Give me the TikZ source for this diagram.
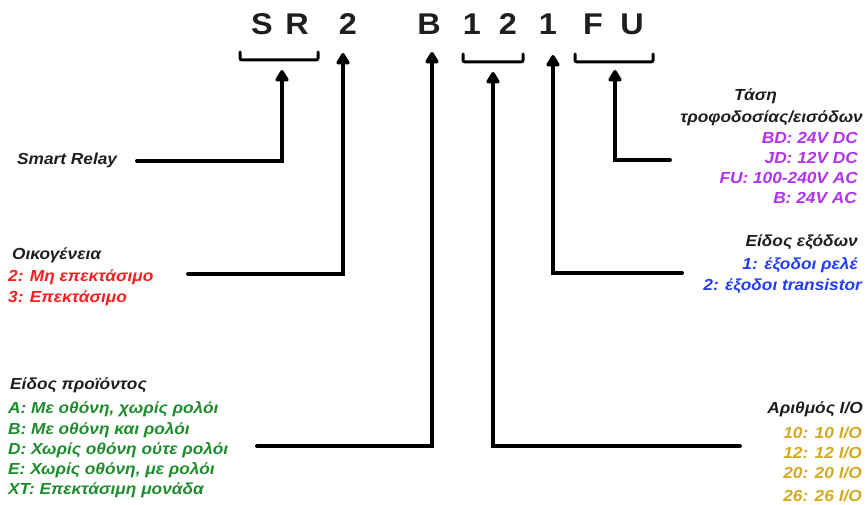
\documentclass[tikz,border=0pt]{standalone}
\usepackage{fontspec}
\setmainfont{Liberation Sans}
\newfontfamily\lblfont[FakeStretch=1.08]{Liberation Sans}
\usetikzlibrary{arrows.meta}
\definecolor{voltc}{RGB}{178,50,240}
\definecolor{famc}{RGB}{250,30,30}
\definecolor{prodc}{RGB}{30,140,45}
\definecolor{outc}{RGB}{35,60,250}
\definecolor{ioc}{RGB}{210,170,30}
\definecolor{headc}{RGB}{30,30,30}
\begin{document}
\begin{tikzpicture}[x=1pt,y=-1pt]
		\tikzstyle{letter}=[font=\lblfont\fontsize{30}{30}\selectfont\bfseries, inner sep=0pt, text=headc]
		\tikzstyle{head}=[font=\lblfont\fontsize{16}{16}\selectfont\bfseries\itshape, inner sep=0pt, text=headc]
		\tikzstyle{val}=[font=\lblfont\fontsize{16}{16}\selectfont\bfseries\itshape, inner sep=0pt]
		\tikzstyle{conn}=[line width=4pt, line cap=round, -{Triangle[round,width=15pt,length=13pt]}]
		\tikzstyle{brace}=[line width=3pt, line cap=round, rounded corners=2pt]

		\useasboundingbox (0,0) rectangle (867,505);

		% code letters
		\node[letter](S) at (262,24){S};
		\node[letter](R) at (297,24){R};
		\node[letter](f2) at (348,24){2};
		\node[letter](B) at (429,24){B};
		\node[letter](n1) at (472,24){1};
		\node[letter](n2) at (508,24){2};
		\node[letter](o1) at (548,24){1};
		\node[letter](F) at (593,24){F};
		\node[letter](U) at (632,24){U};

		% brackets
		\draw[brace] (240,52) -- (240,60) -- (318,60) -- (318,52);
		\draw[brace] (463,54) -- (463,62) -- (523,62) -- (523,54);
		\draw[brace] (575,54) -- (575,62) -- (653,62) -- (653,54);

		% arrow tips
		\coordinate (srtip) at (282,70);
		\coordinate (famtip) at (343,53);
		\coordinate (prodtip) at (432,52);
		\coordinate (iotip) at (493,72);
		\coordinate (outtip) at (553,55);
		\coordinate (volttip) at (615,70);

		% free ends
		\coordinate (srend) at (137,161);
		\coordinate (famend) at (188,274);
		\coordinate (prodend) at (257,446);
		\coordinate (ioend) at (740,446);
		\coordinate (outend) at (682,273);
		\coordinate (voltend) at (670,160);

		% left labels
		\node[val, text=headc, anchor=base west](smart) at (17,165){Smart Relay};

		\node[head, anchor=base west](fam) at (12,259){Οικογένεια};
		\node[val, text=famc, anchor=base west](fam2) at (8,281){2: Μη επεκτάσιμο};
		\node[val, text=famc, anchor=base west](fam3) at (8,302){3: Επεκτάσιμο};

		\node[head, anchor=base west](prod) at (10,389){Είδος προϊόντος};
		\node[val, text=prodc, anchor=base west](prodA) at (8,413){A: Με οθόνη, χωρίς ρολόι};
		\node[val, text=prodc, anchor=base west](prodB) at (8,434){B: Με οθόνη και ρολόι};
		\node[val, text=prodc, anchor=base west](prodD) at (8,454){D: Χωρίς οθόνη ούτε ρολόι};
		\node[val, text=prodc, anchor=base west](prodE) at (8,474){E: Χωρίς οθόνη, με ρολόι};
		\node[val, text=prodc, anchor=base west](prodXT) at (8,494){XT: Επεκτάσιμη μονάδα};

		% right labels
		\node[head, anchor=base east](volt) at (777,101){Τάση};
		\node[head, anchor=base east](volt2) at (863,123){τροφοδοσίας/εισόδων};
		\node[val, text=voltc, anchor=base east](voltBD) at (858,144){BD: 24V DC};
		\node[val, text=voltc, anchor=base east](voltJD) at (858,164){JD: 12V DC};
		\node[val, text=voltc, anchor=base east](voltFU) at (858,184){FU: 100-240V AC};
		\node[val, text=voltc, anchor=base east](voltB) at (857,204){B: 24V AC};

		\node[head, anchor=base east](out) at (858,246){Είδος εξόδων};
		\node[val, text=outc, anchor=base east](out1) at (858,269){1: έξοδοι ρελέ};
		\node[val, text=outc, anchor=base east](out2) at (862,290){2: έξοδοι transistor};

		\node[head, anchor=base east](io) at (863,413){Αριθμός I/O};
		\node[val, text=ioc, anchor=base east](io10) at (862,438){10: 10 I/O};
		\node[val, text=ioc, anchor=base east](io12) at (862,458){12: 12 I/O};
		\node[val, text=ioc, anchor=base east](io20) at (862,478){20: 20 I/O};
		\node[val, text=ioc, anchor=base east](io26) at (862,501){26: 26 I/O};

		% connectors
		\draw[conn] (srend) -| (srtip);
		\draw[conn] (famend) -| (famtip);
		\draw[conn] (prodend) -| (prodtip);
		\draw[conn] (ioend) -| (iotip);
		\draw[conn] (outend) -| (outtip);
		\draw[conn] (voltend) -| (volttip);

\end{tikzpicture}
\end{document}
